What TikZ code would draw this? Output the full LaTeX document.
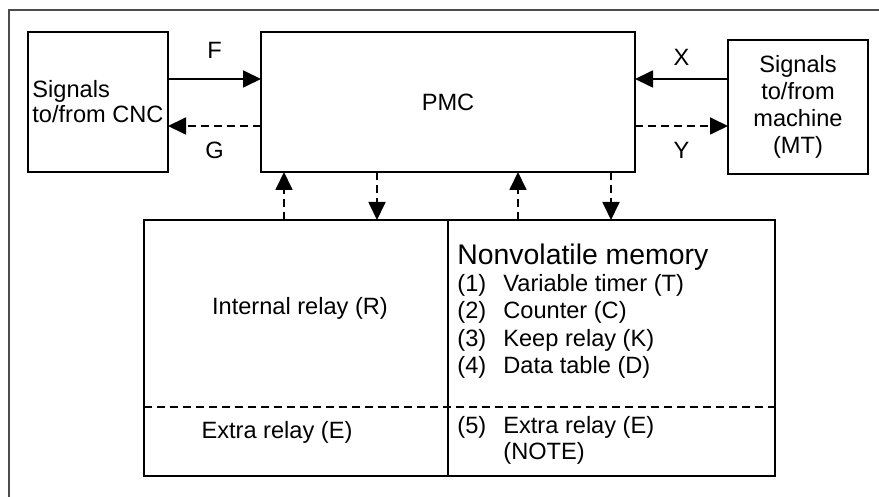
\documentclass[tikz,border=0pt]{standalone}
\usepackage{fontspec}
\setmainfont{Liberation Sans}
\usetikzlibrary{arrows.meta}

\begin{document}
\begin{tikzpicture}[x=0.5pt, y=-0.5pt, >={Triangle[length=9pt,width=8.5pt]},
  every node/.style={font=\fontsize{11.8}{12.5}\selectfont},
  blk/.style={draw, line width=0.9pt, inner sep=0pt, outer sep=0pt},
  flow/.style={line width=0.9pt},
  sig/.style={flow, dash pattern=on 4pt off 2.5pt},
  lbl/.style={inner sep=0pt}]

\useasboundingbox (0,0) rectangle (879,497);
% outer frame, only top and left edges show
\draw[line width=1pt, black!70] (879,10) -- (9,10) -- (9,497);

% upper row of blocks
\node[blk, minimum width=70pt, minimum height=70pt, align=left] (cnc) at (98,102) {Signals\\to/from CNC};
\node[blk, minimum width=187pt, minimum height=70pt] (pmc) at (448,102) {PMC};
\node[blk, minimum width=70pt, minimum height=67pt, align=center,
      font=\fontsize{11.8}{13.5}\selectfont] (mt) at (798,107) {Signals\\to/from\\machine\\(MT)};

% memory blocks
\node[blk, minimum width=152pt, minimum height=128pt] (relay) at (296,348) {};
\node[blk, minimum width=163.5pt, minimum height=128pt, anchor=west] (nvm) at (relay.east) {};
\draw[sig] (relay.west |- 0,407) -- (nvm.east |- 0,407);

% signals between PMC and outside
\draw[flow,->] (cnc.east |- 0,79) -- (pmc.west |- 0,79) node[midway, yshift=14.5pt] (lblF) {F};
\draw[sig,->] (pmc.west |- 0,126) -- (cnc.east |- 0,126) node[midway, yshift=-12pt] (lblG) {G};
\draw[flow,->] (mt.west |- 0,79) -- (pmc.east |- 0,79) node[midway, yshift=11pt] (lblX) {X};
\draw[sig,->] (pmc.east |- 0,126) -- (mt.west |- 0,126) node[midway, yshift=-12pt] (lblY) {Y};

% read/write between PMC and memory
\foreach \x/\blk in {284/relay, 518/nvm}
  \draw[sig,->] (\blk.north -| \x,0) -- (pmc.south -| \x,0);
\foreach \x/\blk in {377/relay, 611/nvm}
  \draw[sig,->] (pmc.south -| \x,0) -- (\blk.north -| \x,0);

% texts in the memory blocks
\node (ir) at (300,308) {Internal relay (R)};
\node (er) at (277,432) {Extra relay (E)};
\node[lbl, anchor=west, font=\fontsize{14.2}{16}\selectfont] (nvmhead) at (457,257) {Nonvolatile memory};
\foreach \t [count=\i] in {Variable timer (T), Counter (C), Keep relay (K), Data table (D)}
  \node[lbl, anchor=west] (item\i) at (457,258+27.3*\i) {\makebox[23pt][l]{(\i)}\t};
\node[lbl, anchor=west] (item5) at (457,427) {\makebox[23pt][l]{(5)}Extra relay (E)};
\node[lbl, anchor=west] (note) at (503,453) {(NOTE)};

\end{tikzpicture}
\end{document}
